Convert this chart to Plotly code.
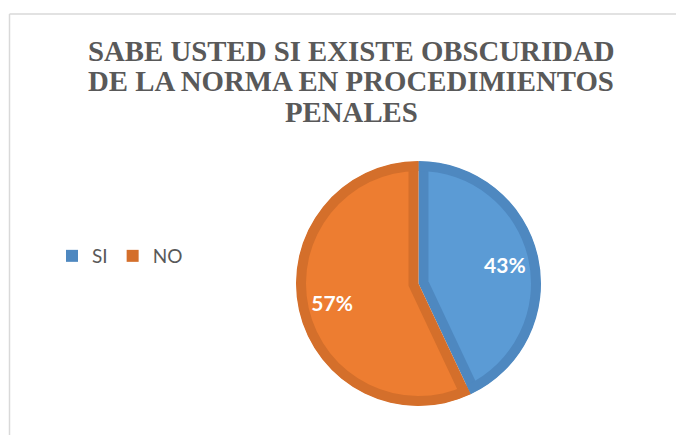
import math

import plotly.graph_objects as go

# --- data --------------------------------------------------------------------
title_lines = [
    "SABE USTED SI EXISTE OBSCURIDAD",
    "DE LA NORMA EN PROCEDIMIENTOS",
    "PENALES",
]
labels = ["SI", "NO"]
values = [43, 57]
fill_colors = ["#5B9BD5", "#ED7D31"]
edge_colors = ["#4E88C0", "#D46F2B"]

# --- geometry ------------------------------------------------------------------
# the page body has an 8px margin, so the figure starts at (8, 8) on screen
OFF = 8
W, H = 684 - OFF, 435 - OFF
CX, CY = 418.5, 283.5      # pie centre (screen px)
R_OUT = 122.5              # outer radius incl. border
BAND = 10                  # border thickness
R_LIGHT = 125              # radius of the pulled light slices (clipped by rings)
R_WHITE = 140              # white ring that hides the overflow
TEXT_R = 88.5              # distance of the % labels from the centre


def xp(sx):
    return (sx - OFF) / W


def yp(sy):
    return 1 - (sy - OFF) / H


def dom(half):
    return dict(x=[xp(CX - half), xp(CX + half)],
                y=[yp(CY + half), yp(CY - half)])


total = sum(values)
# shift each light slice along its bisector so its edges sit BAND px inside
shift = [BAND / math.sin(math.pi * v / total) for v in values]
pull = [s / R_LIGHT for s in shift]
d_light = R_LIGHT * (1 + max(pull))

common = dict(labels=labels, values=values, sort=False, direction="clockwise",
              rotation=0)
no_line = dict(width=0)

fig = go.Figure()

# dark base: gives the border colour on each side of the slice edges
fig.add_trace(go.Pie(**common, marker=dict(colors=edge_colors, line=no_line),
                     domain=dom(R_OUT), textinfo="none", showlegend=True,
                     hoverinfo="label+percent"))

# light slices, pulled apart to reveal the border along the radial edges
fig.add_trace(go.Pie(**common, marker=dict(colors=fill_colors, line=no_line),
                     pull=pull, domain=dom(d_light), showlegend=False,
                     textinfo="none", hoverinfo="label+percent"))

# white ring hiding the overflow of the pulled slices
fig.add_trace(go.Pie(**common, marker=dict(colors=["white", "white"], line=no_line),
                     hole=(R_OUT - 0.5) / R_WHITE, domain=dom(R_WHITE),
                     textinfo="none", showlegend=False, hoverinfo="skip"))

# border ring along the arc
fig.add_trace(go.Pie(**common, marker=dict(colors=edge_colors, line=no_line),
                     hole=(R_OUT - BAND) / R_OUT, domain=dom(R_OUT),
                     textinfo="none", showlegend=False, hoverinfo="skip"))

# transparent donut carrying the % labels (hole sets how far out they sit)
ring = 2 * (1 - TEXT_R / R_OUT)
fig.add_trace(go.Pie(**common,
                     marker=dict(colors=["rgba(0,0,0,0)"] * 2, line=no_line),
                     hole=1 - ring, domain=dom(R_OUT), showlegend=False,
                     hoverinfo="skip",
                     texttemplate="%{percent:.0%}", textposition="inside",
                     insidetextorientation="horizontal",
                     textfont=dict(family="Lato", size=21, color="white",
                                   weight="bold")))

# chart-area frame (only top and left edges are visible in the crop)
frame = dict(type="line", xref="paper", yref="paper",
             line=dict(color="#D9D9D9", width=1.5))
fig.add_shape(**frame, x0=xp(9.5), y0=yp(14), x1=1, y1=yp(14))
fig.add_shape(**frame, x0=xp(9.5), y0=yp(14), x1=xp(9.5), y1=0)

# title, one annotation per line to keep the tight line spacing
for line, sy in zip(title_lines, [50.5, 81.5, 112.5]):
    fig.add_annotation(text=line, xref="paper", yref="paper",
                       x=xp(351), y=yp(sy), xanchor="center", yanchor="middle",
                       showarrow=False,
                       font=dict(family="Liberation Serif", size=28.8,
                                 color="#595959", weight="bold"))

fig.update_layout(
    width=W, height=H, autosize=False,
    margin=dict(l=0, r=0, t=0, b=0),
    paper_bgcolor="white", plot_bgcolor="white",
    legend=dict(orientation="h", x=xp(52), xanchor="left",
                y=yp(256), yanchor="middle",
                font=dict(family="Lato", size=19, color="#595959"),
                itemwidth=30),
)

fig.write_html("out.html")
